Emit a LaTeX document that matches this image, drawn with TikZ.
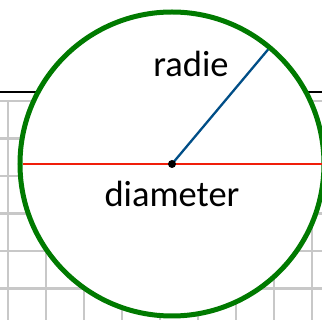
\documentclass[tikz,border=0pt]{standalone}
\usepackage{fontspec}
\setmainfont{Carlito}
\usepackage{xcolor}
\definecolor{ringgreen}{RGB}{0,122,0}
\definecolor{diamred}{RGB}{240,30,10}
\definecolor{radblue}{RGB}{0,78,135}
\definecolor{gridgray}{RGB}{200,200,200}

\begin{document}
\begin{tikzpicture}[x=1pt, y=-1pt,
  every node/.style={font=\fontsize{36.5}{44}\selectfont},
  gridline/.style={gridgray, line width=2.8pt},
  ring/.style={circle, draw=ringgreen, line width=5pt, fill=white,
    minimum size=304pt, inner sep=0pt, outer sep=0pt},
  diamline/.style={diamred, line width=2.3pt},
  radline/.style={radblue, line width=2.3pt},
  centredot/.style={circle, fill=black, inner sep=0pt, minimum size=8pt}]
  \useasboundingbox (0,0) rectangle (322,320);
  % squared paper behind the circle
  \foreach \i in {0,...,8}
    \draw[gridline] ({8+38*\i},101) -- ({8+38*\i},320);
  \foreach \j in {0,...,5}
    \draw[gridline] (0,{101+37.5*\j}) -- (322,{101+37.5*\j});
  \draw[black, line width=2pt] (0,92) -- (322,92);
  % the circle
  \node[ring] (disc) at (172,164) {};
  \coordinate (rend) at (322,164);
  \draw[diamline, shorten <=2.5pt] (disc.west) -- (rend);
  \draw[radline, shorten >=2.5pt] (disc.center) -- (disc.50);
  \node[centredot] (mid) at (disc.center) {};
  \node[anchor=base] (rlabel) at (191,77) {radie};
  \node[anchor=base] (dlabel) at (172,207) {diameter};
\end{tikzpicture}
\end{document}
